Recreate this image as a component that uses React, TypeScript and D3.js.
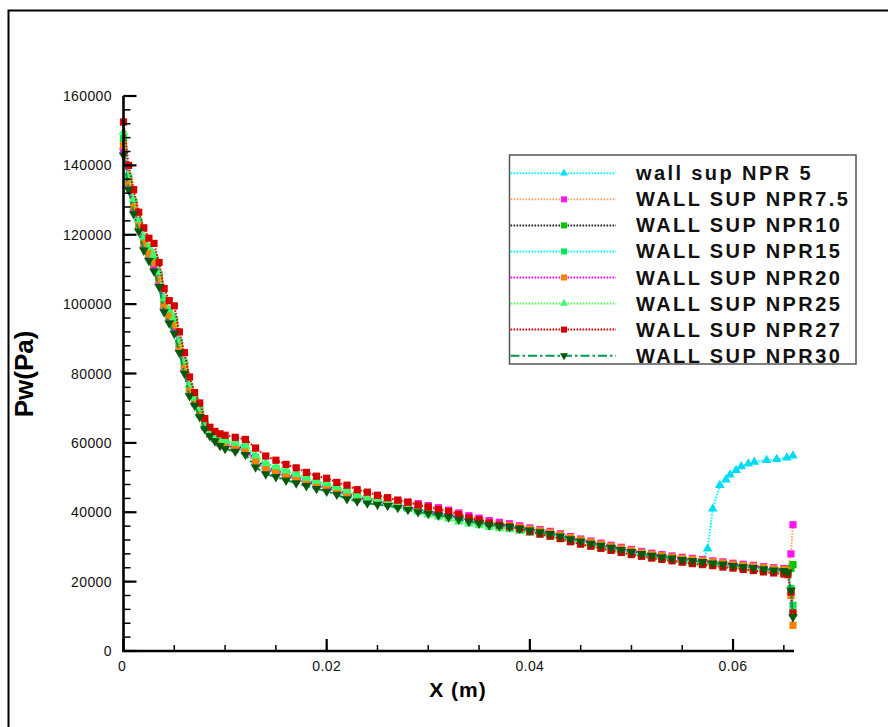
import React from "react";
import * as d3 from "d3";

// x positions (m) shared by the series
const X_M = [0,0.0005,0.001,0.0015,0.002,0.0025,0.003,0.0035,0.004,0.0045,0.005,0.0055,0.006,0.0065,0.007,0.0075,0.008,0.0085,0.009,0.0095,
  0.010,0.011,0.012,0.013,0.014,0.015,0.016,0.017,0.018,0.019,
  0.020,0.021,0.022,0.023,0.024,0.025,0.026,0.027,0.028,0.029,
  0.030,0.031,0.032,0.033,0.034,0.035,0.036,0.037,0.038,0.039,
  0.040,0.041,0.042,0.043,0.044,0.045,0.046,0.047,0.048,0.049,
  0.050,0.051,0.052,0.053,0.054,0.055,0.056,0.057,0.058,0.059,
  0.060,0.061,0.062,0.063,0.064,0.065,0.0654,0.0657,0.0659];

// wall pressure, in kPa (x1000 = Pa)
const NPR5_KPA = [145.3,134.8,127.8,122.4,117.1,114.1,111.5,106.8,99.4,96.1,93.5,87.5,81.5,74.9,71.7,68.5,64.8,62.6,61.2,60.1,
  59.3,58.5,57.7,54.4,52.3,51.4,50.4,49.5,48.6,47.7,
  47.0,46.0,44.8,44.0,43.4,42.9,42.5,41.9,41.3,40.6,
  40.1,39.5,38.9,38.2,37.5,37.0,36.5,36.1,35.9,35.4,
  34.9,34.4,33.9,33.2,32.4,31.7,31.1,30.5,29.9,29.3,
  28.7,28.1,27.5,27.0,26.4,25.8,25.4,25.1];
const NPR5_TAIL_X = [0.0575,0.058,0.0587,0.0593,0.0597,0.0603,0.0608,0.0615,0.0621,0.0633,0.0643,0.0653,0.0659];
const NPR5_TAIL_KPA = [29.5,41.0,47.8,49.4,50.8,52.1,53.2,54.0,54.5,55.0,55.3,55.7,56.3];

const NPR7_5_KPA = [144.6,134.4,127.4,122.1,116.8,113.8,111.1,106.4,99.1,95.8,93.1,87.2,81.2,74.6,71.5,68.3,64.6,62.5,61.1,59.9,
  59.1,58.3,57.5,54.1,52.0,51.2,50.2,49.3,48.4,47.6,
  46.9,46.1,45.2,44.5,44.0,43.9,43.7,43.4,42.9,42.5,
  41.9,41.3,40.6,39.8,39.0,38.3,37.6,37.1,36.7,36.1,
  35.5,35.0,34.5,33.8,33.0,32.3,31.7,31.1,30.5,29.9,
  29.3,28.7,28.2,27.8,27.4,27.0,26.7,26.4,26.0,25.7,
  25.3,25.0,24.7,24.3,24.0,23.8,23.5,28.0,36.4];

const NPR10_KPA = [146.7,135.8,128.8,123.2,118.1,115.1,112.7,107.8,100.4,97.1,94.7,88.4,82.4,75.7,72.3,69.1,65.2,63.0,61.6,60.6,
  59.9,59.1,58.4,55.2,53.1,52.1,51.0,50.2,49.2,48.2,
  47.5,46.5,45.4,44.5,43.9,43.3,42.8,42.2,41.6,40.9,
  40.3,39.8,39.2,38.5,37.8,37.3,36.7,36.3,36.0,35.5,
  35.0,34.5,34.0,33.3,32.5,31.8,31.2,30.6,30.0,29.4,
  28.8,28.2,27.7,27.3,26.9,26.5,26.2,25.9,25.5,25.2,
  24.8,24.5,24.2,23.8,23.5,23.3,23.0,23.8,24.9];

const NPR15_KPA = [147.7,136.5,129.5,123.8,118.8,115.8,113.5,108.5,101.1,97.8,95.5,89,83,76.3,72.7,69.5,65.5,63.3,61.9,60.9,
  60.3,59.6,58.8,55.8,53.6,52.6,51.5,50.6,49.6,48.6,
  47.9,46.9,45.8,44.9,44.2,43.6,43.0,42.3,41.6,40.9,
  40.3,39.8,39.2,38.4,37.7,37.1,36.5,36.0,35.6,35.0,
  34.5,34.0,33.5,32.8,32.0,31.3,30.7,30.1,29.5,28.9,
  28.3,27.7,27.2,26.8,26.4,26.0,25.7,25.4,25.0,24.7,
  24.3,24.0,23.7,23.3,23.0,22.8,22.6,18.0,13.2];

const NPR20_KPA = [145.7,135.1,128.1,122.7,117.5,114.5,111.9,107.1,99.7,96.5,93.9,87.8,81.8,75.2,71.9,68.7,64.9,62.8,61.3,60.2,
  59.5,58.7,57.9,54.7,52.6,51.6,50.6,49.7,48.8,47.9,
  47.1,46.2,45.0,44.2,43.6,43.0,42.6,42.0,41.4,40.8,
  40.2,39.7,39.2,38.5,37.8,37.3,36.8,36.4,36.2,35.7,
  35.2,34.7,34.2,33.5,32.7,32.0,31.4,30.8,30.2,29.6,
  29.0,28.4,27.9,27.5,27.1,26.7,26.4,26.1,25.7,25.4,
  25.0,24.7,24.4,24.0,23.7,23.5,23.2,16.0,7.4];

const NPR25_KPA = [149.6,137.2,130.2,124.3,119.4,116.4,114.3,109.2,101.8,98.4,96.3,89.6,83.6,76.8,73.0,69.9,65.8,63.5,62.2,61.2,
  60.6,60.0,59.2,56.3,54.1,53.1,52.0,51.0,49.9,49.0,
  48.3,47.2,46.2,44.9,44.0,43.2,42.5,41.7,40.9,40.1,
  39.3,38.7,38.1,37.3,36.7,36.2,35.7,35.3,35.0,34.5,
  34.0,33.5,32.9,32.2,31.5,30.8,30.2,29.6,29.0,28.4,
  27.9,27.3,26.9,26.5,26.1,25.7,25.4,25.1,24.8,24.5,
  24.1,23.8,23.5,23.2,22.9,22.7,22.5,17.2,11.8];

const NPR27_KPA = [152.5,140,133,126.5,122,119,117.5,112,104.5,101,99.5,92,86,79,74.5,71.5,67,64.5,63.3,62.6,
  62.2,61.6,61,58.5,56.2,55,53.8,52.8,51.5,50.4,
  49.8,48.6,47.8,46.5,45.8,44.9,44.2,43.5,42.9,42.1,
  41.5,40.8,40.2,39.3,38.4,37.8,36.9,36.3,35.8,35.2,
  34.4,33.7,33.1,32.4,31.5,30.8,30.2,29.6,29.0,28.4,
  27.8,27.3,26.8,26.4,26.0,25.6,25.2,24.9,24.6,24.2,
  23.9,23.5,23.2,22.8,22.5,22.2,22.0,17.0,11.0];

const NPR30_KPA = [142.9,133,126,121,115.5,112.5,109.5,105,97.7,94.5,91.5,86,80,73.5,70.8,67.5,64,62,60.5,59.2,
  58.3,57.5,56.6,53,51,50.2,49.2,48.4,47.6,46.8,
  46,45.1,43.8,43.2,42.6,42.2,41.9,41.3,40.7,40.1,
  39.6,39.1,38.6,37.9,37.3,36.8,36.3,36.0,35.8,35.3,
  34.8,34.3,33.8,33.1,32.3,31.6,31.0,30.4,29.8,29.2,
  28.6,28.0,27.5,27.1,26.7,26.3,26.0,25.7,25.3,25.0,
  24.6,24.3,24.0,23.6,23.3,23.1,22.8,17.5,9.8];

const SERIES_NAMES = ["wall sup NPR 5","WALL SUP NPR7.5","WALL SUP NPR10","WALL SUP NPR15","WALL SUP NPR20","WALL SUP NPR25","WALL SUP NPR27","WALL SUP NPR30"];
const X_TICKS = [0, 0.02, 0.04, 0.06];
const X_TICK_LABELS = ["0", "0.02", "0.04", "0.06"];
const Y_TICKS = [0, 20000, 40000, 60000, 80000, 100000, 120000, 140000, 160000];

type Marker = "triUp" | "triDown" | "square";
interface S { name: string; xs: number[]; vs: number[]; line: string; mark: string; marker: Marker; dash: string; }

const FONT = "'Liberation Sans', Arial, Helvetica, sans-serif";

export default function App() {
  const x = d3.scaleLinear().domain([0, 0.066]).range([123.5, 794]);
  const y = d3.scaleLinear().domain([0, 160000]).range([651, 96]);

  const dot = "1.6 1.4";
  const series: S[] = [
    { name: SERIES_NAMES[0], xs: X_M.slice(0, NPR5_KPA.length).concat(NPR5_TAIL_X), vs: NPR5_KPA.concat(NPR5_TAIL_KPA), line: "#00ffff", mark: "#00dcf5", marker: "triUp", dash: dot },
    { name: SERIES_NAMES[1], xs: X_M, vs: NPR7_5_KPA, line: "#ffa866", mark: "#ff14ee", marker: "square", dash: dot },
    { name: SERIES_NAMES[2], xs: X_M, vs: NPR10_KPA, line: "#222222", mark: "#00c800", marker: "square", dash: dot },
    { name: SERIES_NAMES[3], xs: X_M, vs: NPR15_KPA, line: "#00ffff", mark: "#00e650", marker: "square", dash: dot },
    { name: SERIES_NAMES[4], xs: X_M, vs: NPR20_KPA, line: "#ff00ff", mark: "#ff8000", marker: "square", dash: dot },
    { name: SERIES_NAMES[5], xs: X_M, vs: NPR25_KPA, line: "#55ff55", mark: "#3cff6e", marker: "triUp", dash: dot },
    { name: SERIES_NAMES[6], xs: X_M, vs: NPR27_KPA, line: "#e00000", mark: "#d40000", marker: "square", dash: dot },
    { name: SERIES_NAMES[7], xs: X_M, vs: NPR30_KPA, line: "#009a4c", mark: "#005a0a", marker: "triDown", dash: "9 3 2.5 3" },
  ];

  const lineGen = d3.line<[number, number]>().x(d => x(d[0])).y(d => y(d[1] * 1000));
  const sq = d3.symbol(d3.symbolSquare, 52)() as string;
  const tri = d3.symbol(d3.symbolTriangle, 40)() as string;
  const sqL = d3.symbol(d3.symbolSquare, 36)() as string;
  const triL = d3.symbol(d3.symbolTriangle, 28)() as string;
  const markerPath = (m: Marker, legend = false) => (m === "square" ? (legend ? sqL : sq) : (legend ? triL : tri));
  const markerRot = (m: Marker) => (m === "triDown" ? " rotate(180)" : "");

  const xMinor = d3.range(0, 0.0651, 0.005);
  const yMinor = d3.range(0, 160001, 4000);

  const legX0 = 509.5, legX1 = 856, legY0 = 155, legY1 = 364;

  return (
    <svg width={888} height={727} style={{ position: "absolute", left: 0, top: 0, display: "block", background: "#fff" }} fontFamily={FONT}>
      <rect x={0} y={0} width={888} height={727} fill="#fff" />
      {/* outer frame */}
      <path d="M8.5,727 V10.5 H888" fill="none" stroke="#000" strokeWidth={2} />

      {/* series */}
      {series.map((s, i) => {
        const pts = s.xs.map((xv, j) => [xv, s.vs[j]] as [number, number]);
        return (
          <g key={i}>
            <path d={lineGen(pts) as string} fill="none" stroke={s.line} strokeWidth={2} strokeDasharray={s.dash} />
            {pts.map((p, j) => (
              <path key={j} d={markerPath(s.marker)} fill={s.mark}
                transform={`translate(${x(p[0])},${y(p[1] * 1000)})${markerRot(s.marker)}`} />
            ))}
          </g>
        );
      })}

      {/* y axis */}
      <line x1={123.5} x2={123.5} y1={y(160000)} y2={y(0) + 1} stroke="#000" strokeWidth={2.6} />
      {yMinor.map((v, i) => (
        <line key={"ym" + i} x1={123.5} x2={130.5} y1={y(v)} y2={y(v)} stroke="#000" strokeWidth={1.5} />
      ))}
      {Y_TICKS.map((v, i) => (
        <g key={"yt" + i}>
          <line x1={123.5} x2={136.5} y1={y(v)} y2={y(v)} stroke="#000" strokeWidth={2.2} />
          <text x={112} y={y(v) + 5} textAnchor="end" fontSize={14} letterSpacing={0.4} fill="#111">{String(v)}</text>
        </g>
      ))}

      {/* x axis */}
      <line x1={122.2} x2={794} y1={651} y2={651} stroke="#000" strokeWidth={2.6} />
      {xMinor.map((v, i) => (
        <line key={"xm" + i} x1={x(v)} x2={x(v)} y1={651} y2={645} stroke="#000" strokeWidth={1.5} />
      ))}
      {X_TICKS.map((v, i) => (
        <g key={"xt" + i}>
          <line x1={x(v)} x2={x(v)} y1={651} y2={639} stroke="#000" strokeWidth={2.2} />
          <text x={x(v) - (i === 0 ? 1.5 : 0)} y={670.5} textAnchor="middle" fontSize={14} letterSpacing={0.4} fill="#111">{X_TICK_LABELS[i]}</text>
        </g>
      ))}

      {/* axis titles */}
      <text x={458} y={697} textAnchor="middle" fontSize={21} fontWeight="bold" letterSpacing={1}>X (m)</text>
      <text transform={`translate(33,374) rotate(-90)`} textAnchor="middle" fontSize={26} fontWeight="bold">Pw(Pa)</text>

      {/* legend */}
      <rect x={legX0} y={legY0} width={legX1 - legX0} height={legY1 - legY0} fill="#fff" stroke="#555" strokeWidth={1.5} />
      {series.map((s, i) => {
        const cy = 173.3 + i * 26.05;
        return (
          <g key={"lg" + i}>
            <line x1={legX0 + 1} x2={616} y1={cy} y2={cy} stroke={s.line} strokeWidth={2} strokeDasharray={s.dash} />
            <path d={markerPath(s.marker, true)} fill={s.mark} transform={`translate(564,${cy})${markerRot(s.marker)}`} />
            <text x={636} y={cy + 7} fontSize={20} fontWeight="bold" letterSpacing={2.4} fill="#111">{s.name}</text>
          </g>
        );
      })}
    </svg>
  );
}
